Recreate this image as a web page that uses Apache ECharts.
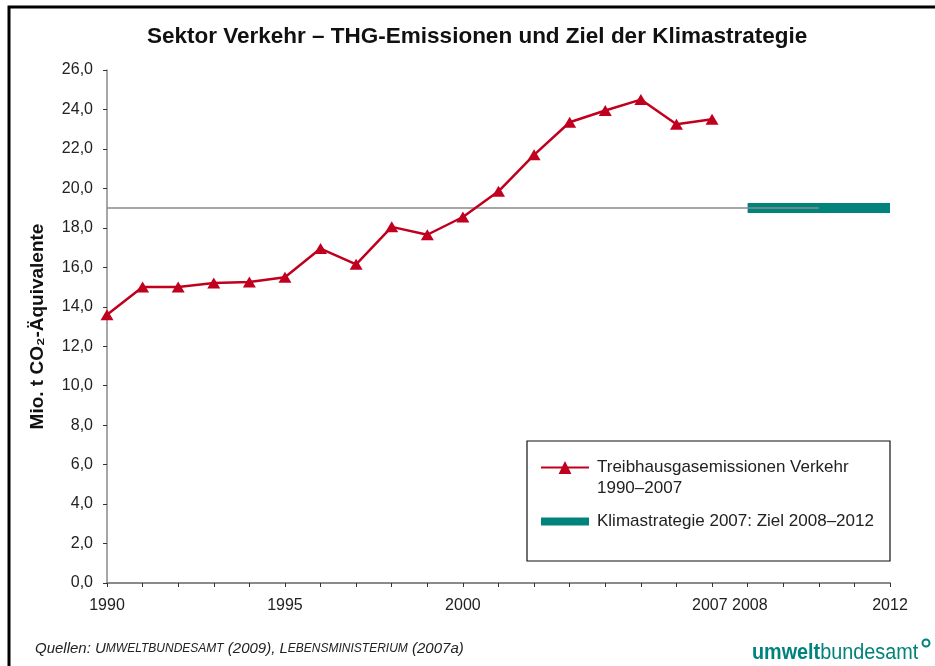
<!DOCTYPE html>
<html>
<head>
<meta charset="utf-8">
<script src="https://cdn.jsdelivr.net/npm/echarts@6/dist/echarts.min.js"></script>
<style>
  html, body { margin: 0; padding: 0; background: #fff; }
  #chart { width: 935px; height: 666px; }
</style>
</head>
<body>
<div id="chart"></div>
<script>
// Emissions, Mio. t CO2-Äquivalente
const years = [1990, 1991, 1992, 1993, 1994, 1995, 1996, 1997, 1998, 1999,
  2000, 2001, 2002, 2003, 2004, 2005, 2006, 2007]
const emissions = [13.6, 15.0, 15.0, 15.2, 15.25, 15.5, 16.95, 16.15, 18.05, 17.65,
  18.55, 19.85, 21.7, 23.35, 23.95, 24.5, 23.25, 23.5]

const targetValue = 19.0
const targetYears = [2008, 2012]
const refLineYears = [1990, 2010]

const xTickLabels = [1990, 1995, 2000, 2007, 2008, 2012]

const emName = "Treibhausgasemissionen Verkehr 1990–2007"
const targetName = "Klimastrategie 2007: Ziel 2008–2012"

const font = "'Liberation Sans', Arial, sans-serif"
const red = "#C0001E"
const teal = "#00837B"

const chart = echarts.init(document.getElementById("chart"), null, { renderer: "canvas" })

chart.setOption({
    animation: false,
    textStyle: { fontFamily: font },
    title: {
        text: "Sektor Verkehr – THG-Emissionen und Ziel der Klimastrategie",
        left: 142,
        top: 20,
        textStyle: { fontSize: 22.5, fontWeight: "bold", color: "#111", fontFamily: font },
    },
    grid: { left: 107, right: 45, top: 70, bottom: 83 },
    legend: {
        orient: "vertical",
        left: 537,
        top: 436,
        padding: 0,
        itemGap: 12,
        itemWidth: 48,
        itemHeight: 16,
        textStyle: { fontSize: 17, color: "#222", lineHeight: 21, padding: [0, 0, 0, 3], fontFamily: font },
        formatter: (name) => {
            if (name === emName) return "\nTreibhausgasemissionen Verkehr\n1990–2007"
            return name
        },
        data: [
            { name: emName },
            { name: targetName, lineStyle: { width: 8 }, itemStyle: { opacity: 0 } },
        ],
    },
    xAxis: {
        type: "value",
        min: 1990,
        max: 2012,
        interval: 1,
        axisLine: { lineStyle: { color: "#8a8a8a", width: 2 } },
        axisTick: { show: true, length: 4, lineStyle: { color: "#333" } },
        splitLine: { show: false },
        axisLabel: {
            margin: 15,
            fontSize: 16,
            color: "#222",
            formatter: (v) => {
                if (xTickLabels.indexOf(v) < 0) return ""
                if (v === 2007) return v + " "
                if (v === 2008) return " " + v
                return String(v)
            },
        },
    },
    yAxis: {
        type: "value",
        min: 0,
        max: 26,
        interval: 2,
        name: "Mio. t CO₂-Äquivalente",
        nameLocation: "middle",
        nameGap: 60,
        nameTextStyle: { fontSize: 19, fontWeight: "bold", color: "#111", fontFamily: font },
        axisLine: { show: true, lineStyle: { color: "#8a8a8a", width: 1.5 } },
        axisTick: { show: true, length: 4, lineStyle: { color: "#333" } },
        splitLine: { show: false },
        axisLabel: {
            margin: 14,
            fontSize: 16,
            color: "#222",
            formatter: (v) => v.toFixed(1).replace(".", ","),
        },
    },
    series: [
        {
            name: targetName,
            type: "line",
            data: targetYears.map((y) => [y, targetValue]),
            symbol: "none",
            lineStyle: { color: teal, width: 10, cap: "butt" },
            itemStyle: { color: teal },
            z: 2,
        },
        {
            name: "ref",
            type: "line",
            data: refLineYears.map((y) => [y, targetValue]),
            symbol: "none",
            lineStyle: { color: "#8a8a8a", width: 1.5 },
            z: 3,
            silent: true,
        },
        {
            name: emName,
            type: "line",
            data: years.map((y, i) => [y, emissions[i]]),
            symbol: "triangle",
            symbolSize: [13, 11],
            lineStyle: { color: red, width: 2.5 },
            itemStyle: { color: red },
            z: 4,
        },
    ],
    graphic: [
        {
            type: "rect",
            shape: { x: 9, y: 7, width: 940, height: 700 },
            style: { fill: "none", stroke: "#000", lineWidth: 3 },
            silent: true,
        },
        {
            type: "rect",
            shape: { x: 527, y: 441, width: 363, height: 120 },
            style: { fill: "none", stroke: "#111", lineWidth: 1.2 },
            silent: true,
        },
        {
            type: "text",
            left: 35,
            top: 641,
            style: {
                text: "{n|Quellen: U}{s|MWELTBUNDESAMT}{n| (2009), L}{s|EBENSMINISTERIUM}{n| (2007a)}",
                rich: {
                    n: { fontSize: 15, fontStyle: "italic", fill: "#222", fontFamily: font },
                    s: { fontSize: 12, fontStyle: "italic", fill: "#222", fontFamily: font },
                },
            },
        },
        {
            type: "text",
            x: 752,
            y: 642,
            scaleX: 0.9,
            style: {
                text: "{b|umwelt}{l|bundesamt}",
                rich: {
                    b: { fontSize: 22, fontWeight: "bold", fill: teal, fontFamily: font },
                    l: { fontSize: 22, fill: teal, fontFamily: font },
                },
            },
        },
        {
            type: "circle",
            shape: { cx: 926, cy: 643, r: 3.5 },
            style: { fill: "none", stroke: teal, lineWidth: 2 },
            silent: true,
        },
    ],
})
</script>
</body>
</html>
